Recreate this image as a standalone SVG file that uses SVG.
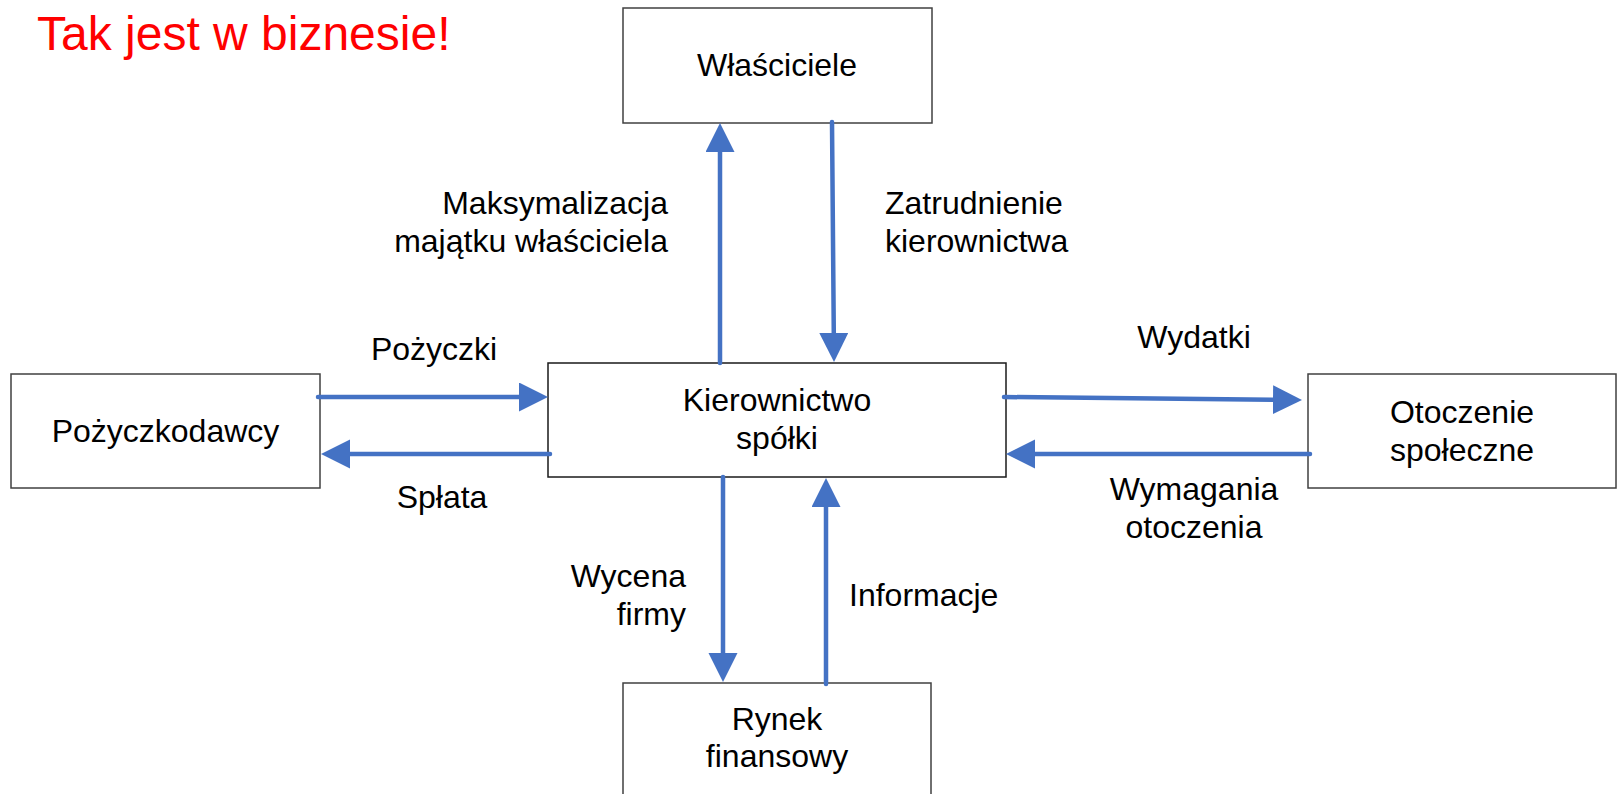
<svg xmlns="http://www.w3.org/2000/svg" width="1617" height="794" viewBox="0 0 1617 794">
<style>
text{font-family:"Liberation Sans",Arial,sans-serif;font-size:32px;fill:#000}
.box{fill:#fff;stroke:#404040;stroke-width:1.5}
.c{text-anchor:middle}
.e{text-anchor:end}
.con{stroke:#4472C4;stroke-width:4.5;fill:none;stroke-linecap:round;marker-end:url(#ah)}
.title{font-size:48px;fill:#FF0000}
</style>
<defs>
<marker id="ah" markerUnits="userSpaceOnUse" markerWidth="30" markerHeight="30" refX="1" refY="14.5" orient="auto" viewBox="0 0 30 30">
<path d="M0,0 L29,14.5 L0,29 Z" fill="#4472C4"/>
</marker>
</defs>
<rect width="1617" height="794" fill="#fff"/>
<text class="title" x="37" y="50">Tak jest w biznesie!</text>

<g id="wlasciciele">
<rect class="box" x="623" y="8" width="309" height="115"/>
<text class="c" x="777" y="76">Właściciele</text>
</g>
<g id="pozyczkodawcy">
<rect class="box" x="11" y="374" width="309" height="114"/>
<text class="c" x="165.5" y="442">Pożyczkodawcy</text>
</g>
<g id="kierownictwo">
<rect class="box" x="548" y="363" width="458" height="114" style="stroke:#1a1a1a"/>
<text class="c" x="777" y="411">Kierownictwo</text>
<text class="c" x="777" y="449">spółki</text>
</g>
<g id="otoczenie">
<rect class="box" x="1308" y="374" width="308" height="114"/>
<text class="c" x="1462" y="423">Otoczenie</text>
<text class="c" x="1462" y="461">społeczne</text>
</g>
<g id="rynek">
<rect class="box" x="623" y="683" width="308" height="130"/>
<text class="c" x="777" y="730">Rynek</text>
<text class="c" x="777" y="767">finansowy</text>
</g>

<g id="connectors">
<path class="con" d="M720,363 L720,151"/>
<path class="con" d="M832,122 L833.8,334"/>
<path class="con" d="M318,397 L520,397"/>
<path class="con" d="M550,454 L349,454"/>
<path class="con" d="M1004,397 L1274,399.7"/>
<path class="con" d="M1310,454 L1034,454"/>
<path class="con" d="M723,477 L723,654"/>
<path class="con" d="M826,684 L826,506"/>
</g>

<g id="labels">
<text class="e" x="668" y="214">Maksymalizacja</text>
<text class="e" x="668" y="252">majątku właściciela</text>
<text x="885" y="214">Zatrudnienie</text>
<text x="885" y="252">kierownictwa</text>
<text class="c" x="434" y="360">Pożyczki</text>
<text class="c" x="442" y="508">Spłata</text>
<text class="c" x="1194" y="348">Wydatki</text>
<text class="c" x="1194" y="500">Wymagania</text>
<text class="c" x="1194" y="538">otoczenia</text>
<text class="e" x="686" y="587">Wycena</text>
<text class="e" x="686" y="625">firmy</text>
<text x="849" y="606">Informacje</text>
</g>
</svg>
